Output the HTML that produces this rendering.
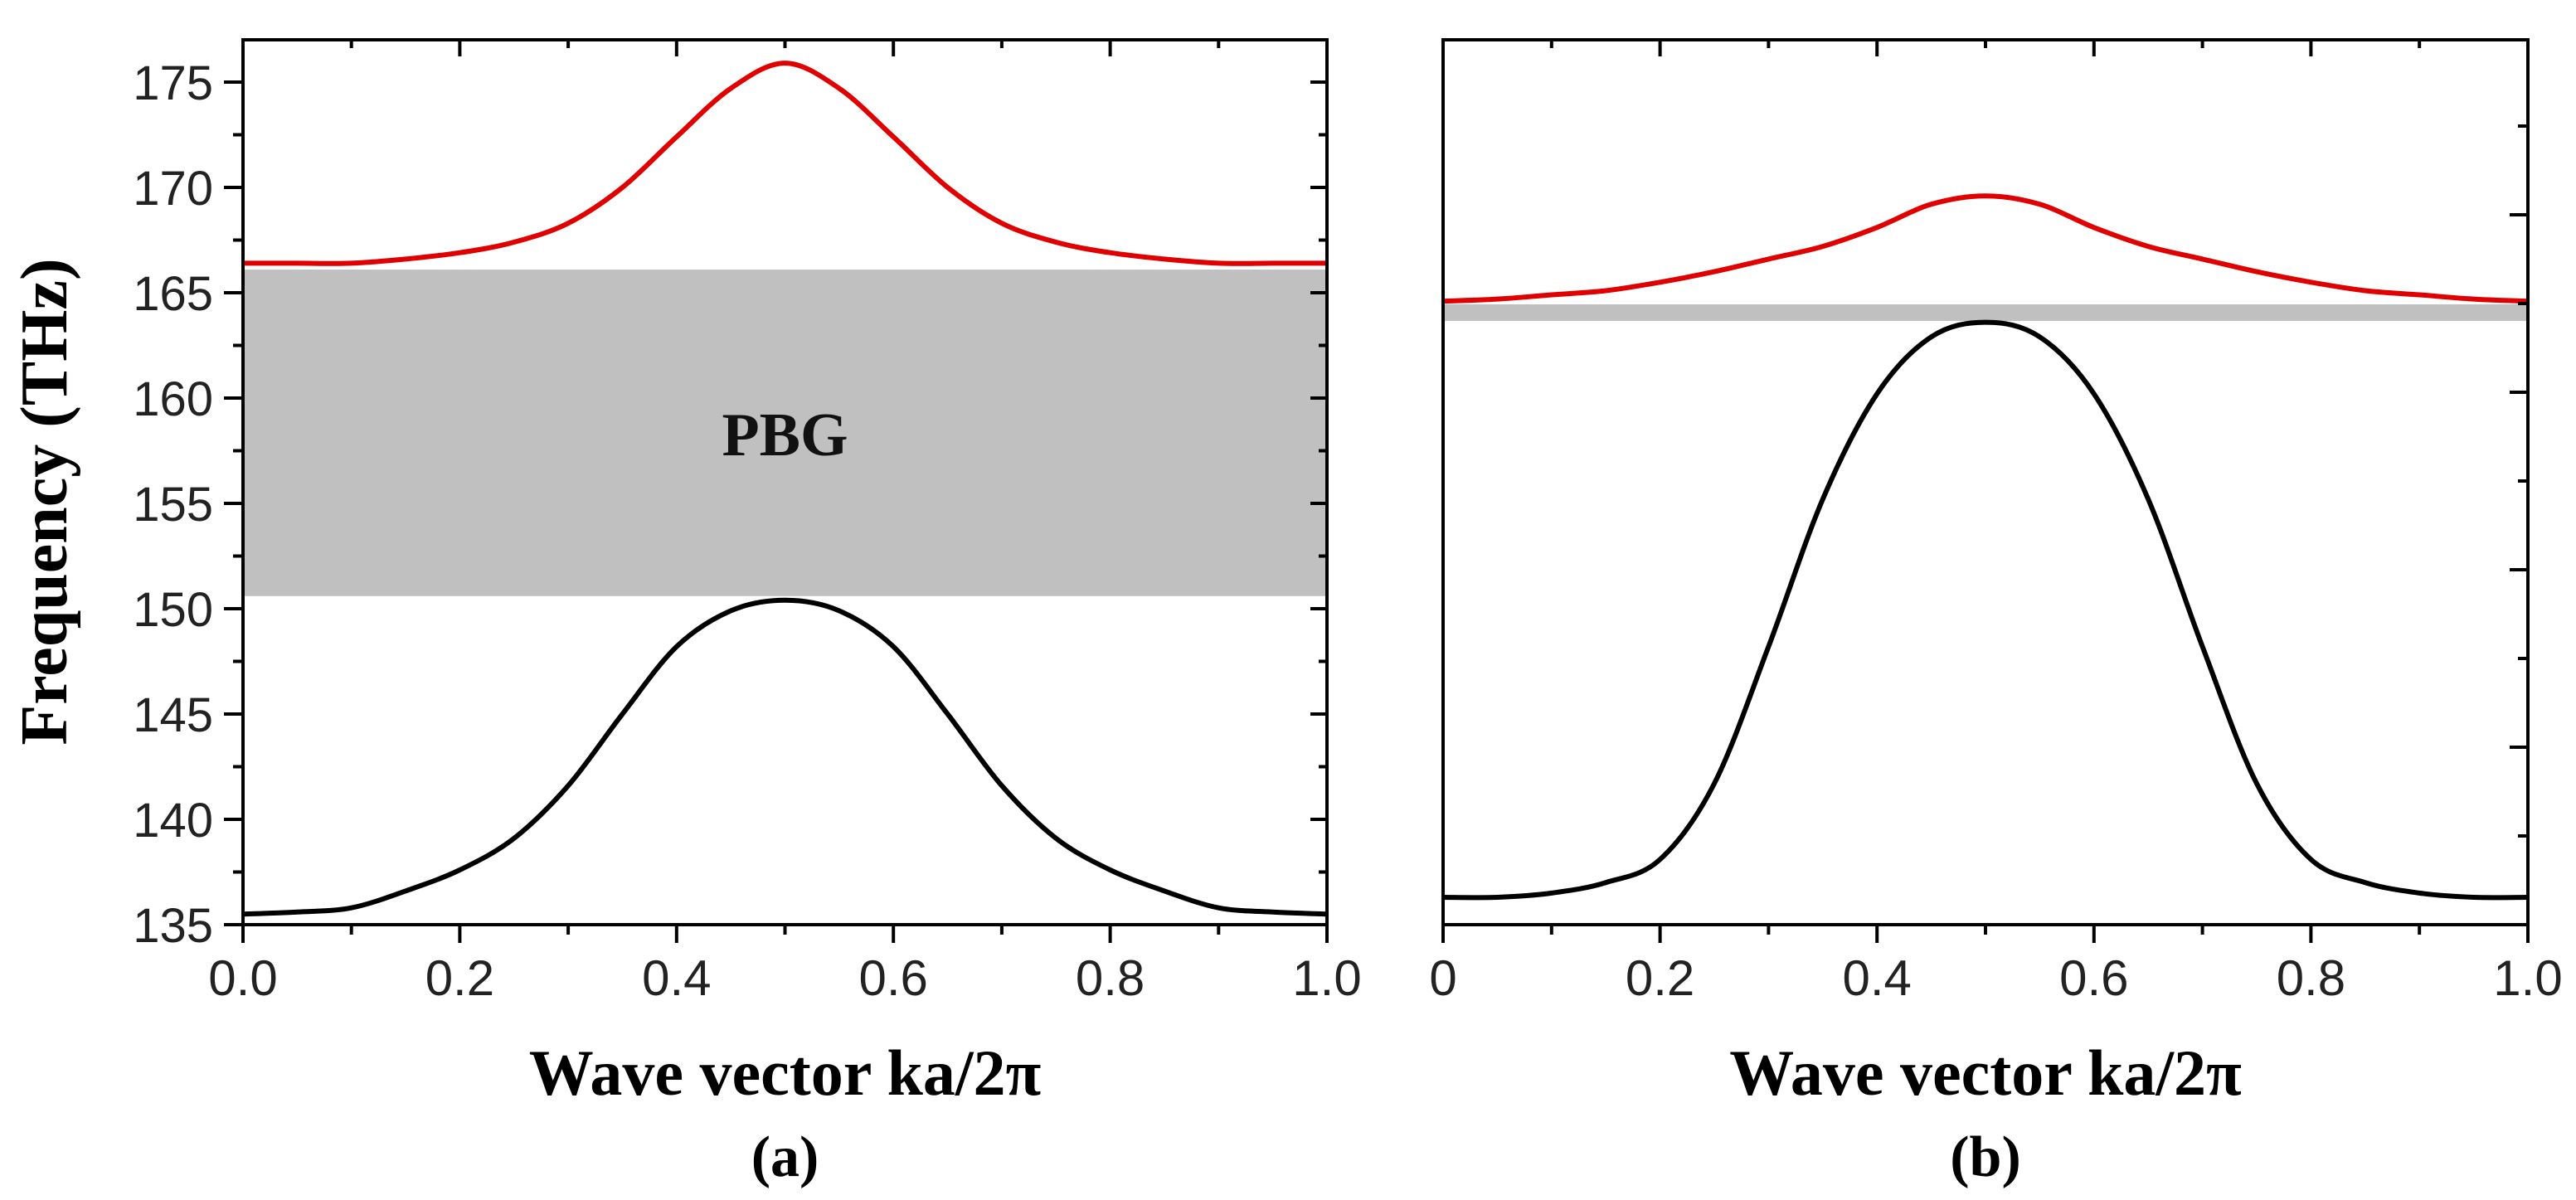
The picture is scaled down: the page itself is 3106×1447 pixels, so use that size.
<!DOCTYPE html>
<html><head><meta charset="utf-8"><style>
html,body{margin:0;padding:0;background:#fff;}
svg{display:block;}
</style></head><body>
<svg id="fig" width="3106" height="1447" viewBox="0 0 3106 1447" xmlns="http://www.w3.org/2000/svg"></svg>
<script>
// ---- data ----
const kValues = [0,0.05,0.1,0.15,0.2,0.25,0.3,0.35,0.4,0.45,0.5,0.55,0.6,0.65,0.7,0.75,0.8,0.85,0.9,0.95,1.0];
const aUpper = [166.4,166.4,166.4,166.6,166.9,167.4,168.3,170.0,172.4,174.7,175.9,174.7,172.4,170.0,168.3,167.4,166.9,166.6,166.4,166.4,166.4];
const aLower = [135.5,135.6,135.8,136.6,137.6,139.1,141.6,145.0,148.2,149.9,150.4,149.9,148.2,145.0,141.6,139.1,137.6,136.6,135.8,135.6,135.5];
const bUpper = [164.6,164.7,164.9,165.1,165.5,166.0,166.6,167.2,168.1,169.2,169.6,169.2,168.1,167.2,166.6,166.0,165.5,165.1,164.9,164.7,164.6];
const bLower = [136.3,136.3,136.5,137.0,138.1,141.7,148.2,155.2,160.2,162.9,163.6,162.9,160.2,155.2,148.2,141.7,138.1,137.0,136.5,136.3,136.3];
const aGap = [150.6,166.1];
const bGap = [163.66,164.45];
const yTicks = [135,140,145,150,155,160,165,170,175];
const xTicks = [0,0.2,0.4,0.6,0.8,1.0];
const xLabelsA = ["0.0","0.2","0.4","0.6","0.8","1.0"];
const xLabelsB = ["0","0.2","0.4","0.6","0.8","1.0"];

const NS="http://www.w3.org/2000/svg";
const svg=document.getElementById('fig');
function mk(tag,attrs,parent){const e=document.createElementNS(NS,tag);for(const k in attrs)e.setAttribute(k,attrs[k]);(parent||svg).appendChild(e);return e;}

const TOP=48, BOT=1115, YMIN=135, PXPER=(1115-99)/40;
function yS(v){return BOT-(v-YMIN)*PXPER;}
function makeX(x0,x1){return v=>x0+v*(x1-x0);}

function smoothPath(pts){
  let d='M'+pts[0][0].toFixed(1)+' '+pts[0][1].toFixed(1);
  for(let i=0;i<pts.length-1;i++){
    const p0=pts[Math.max(0,i-1)],p1=pts[i],p2=pts[i+1],p3=pts[Math.min(pts.length-1,i+2)];
    const c1x=p1[0]+(p2[0]-p0[0])/6,c1y=p1[1]+(p2[1]-p0[1])/6;
    const c2x=p2[0]-(p3[0]-p1[0])/6,c2y=p2[1]-(p3[1]-p1[1])/6;
    d+='C'+c1x.toFixed(1)+' '+c1y.toFixed(1)+' '+c2x.toFixed(1)+' '+c2y.toFixed(1)+' '+p2[0].toFixed(1)+' '+p2[1].toFixed(1);
  }
  return d;
}

function panel(id,x0,x1,upper,lower,gap,xLabels,yLabelsLeft){
  const xS=makeX(x0,x1);
  const g=mk('g',{});
  
  
  const band=mk('rect',{x:xS(0),y:yS(gap[1]),width:xS(1)-xS(0),height:yS(gap[0])-yS(gap[1]),fill:'#c0c0c0'},g);
  
  
  function line(vals,color,name){
    const pts=vals.map((v,i)=>[xS(kValues[i]),yS(v)]);
    const p=mk('path',{d:smoothPath(pts),fill:'none',stroke:color,'stroke-width':6,'stroke-linejoin':'round'},g);
    
    
  }
  line(upper,'#e00000','upper-band-'+id);
  line(lower,'#000','lower-band-'+id);
  const fr=mk('rect',{x:x0,y:TOP,width:x1-x0,height:BOT-TOP,fill:'none',stroke:'#000','stroke-width':4},g);
  
  
  for(let i=0;i<=10;i++){
    const v=i/10, px=xS(v), major=i%2===0;
    mk('line',{x1:px,y1:BOT,x2:px,y2:BOT+(major?22:12),stroke:'#000','stroke-width':4},g);
    mk('line',{x1:px,y1:TOP,x2:px,y2:TOP+(major?20:10),stroke:'#000','stroke-width':4},g);
  }
  xTicks.forEach((v,i)=>{
    const t=mk('text',{x:xS(v),y:1200,'text-anchor':'middle','font-family':'Liberation Sans, sans-serif','font-size':60,fill:'#222'},g);
    t.textContent=xLabels[i];
    
    
  });
  if(yLabelsLeft){
    for(let v=135;v<=177;v+=2.5){
      const py=yS(v), major=(v%5===0);
      mk('line',{x1:x0,y1:py,x2:x0-(major?23:12),y2:py,stroke:'#000','stroke-width':4},g);
      mk('line',{x1:x1,y1:py,x2:x1-(major?20:10),y2:py,stroke:'#000','stroke-width':4},g);
    }
    yTicks.forEach(v=>{
      const t=mk('text',{x:257,y:yS(v)+21,'text-anchor':'end','font-family':'Liberation Sans, sans-serif','font-size':58,fill:'#222'},g);
      t.textContent=String(v);
      
      
    });
  } else {
    for(let k=0;k<=9;k++){
      const py=BOT-107*k; if(py<TOP+5) break;
      const major=k%2===0;
      mk('line',{x1:x1,y1:py,x2:x1-(major?22:12),y2:py,stroke:'#000','stroke-width':4},g);
    }
  }
  const xl=mk('text',{x:(x0+x1)/2,y:1320,'text-anchor':'middle','font-family':'Liberation Serif, serif','font-weight':'bold','font-size':78,fill:'#000'},g);
  xl.textContent='Wave vector ka/2\u03c0';
  
  
  const cap=mk('text',{x:(x0+x1)/2,y:1418,'text-anchor':'middle','font-family':'Liberation Serif, serif','font-weight':'bold','font-size':70,fill:'#000'},g);
  cap.textContent='('+id+')';
  
  
  return xS;
}

const xA=panel('a',293,1600,aUpper,aLower,aGap,xLabelsA,true);
panel('b',1740,3048,bUpper,bLower,bGap,xLabelsB,false);

const pbg=mk('text',{x:xA(0.5),y:yS(158.3)+26,'text-anchor':'middle','font-family':'Liberation Serif, serif','font-weight':'bold','font-size':74,fill:'#111'});
pbg.textContent='PBG';



const yl=mk('text',{x:0,y:0,transform:'translate(80,605) rotate(-90)','text-anchor':'middle','font-family':'Liberation Serif, serif','font-weight':'bold','font-size':80,fill:'#000'});
yl.textContent='Frequency (THz)';


</script>
</body></html>
